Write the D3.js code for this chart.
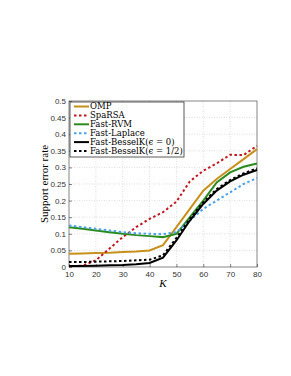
<!DOCTYPE html>
<html>
<head>
<meta charset="utf-8">
<script src="https://cdn.jsdelivr.net/npm/d3@7"></script>
<style>
  body { margin: 0; background: #fff; }
  text { font-family: "DejaVu Serif", "Liberation Serif", serif; }
</style>
</head>
<body>
<svg id="chart" width="291" height="376"></svg>
<script>
// data
var kValues = [10, 15, 20, 25, 30, 35, 40, 45, 50, 55, 60, 65, 70, 75, 80];
var omp      = [0.040, 0.041, 0.042, 0.043, 0.045, 0.047, 0.050, 0.066, 0.120, 0.175, 0.230, 0.265, 0.295, 0.325, 0.355];
var sparsa   = [0.002, 0.004, 0.020, 0.055, 0.090, 0.120, 0.145, 0.165, 0.197, 0.258, 0.290, 0.312, 0.338, 0.337, 0.365];
var fastRvm  = [0.120, 0.115, 0.110, 0.105, 0.100, 0.096, 0.093, 0.090, 0.100, 0.150, 0.200, 0.255, 0.285, 0.302, 0.312];
var fastLap  = [0.125, 0.120, 0.115, 0.110, 0.105, 0.102, 0.100, 0.099, 0.105, 0.140, 0.175, 0.200, 0.225, 0.250, 0.268];
var bessel0  = [0.003, 0.003, 0.004, 0.005, 0.006, 0.008, 0.012, 0.028, 0.080, 0.140, 0.190, 0.230, 0.258, 0.278, 0.292];
var bessel12 = [0.015, 0.015, 0.016, 0.017, 0.018, 0.020, 0.022, 0.035, 0.088, 0.145, 0.195, 0.235, 0.262, 0.282, 0.297];
var xTicks = [10, 20, 30, 40, 50, 60, 70, 80];
var yTicks = [0, 0.05, 0.1, 0.15, 0.2, 0.25, 0.3, 0.35, 0.4, 0.45, 0.5];

var seriesList = [
  { name: "OMP", values: omp, color: "#c8901a", dash: null },
  { name: "SpaRSA", values: sparsa, color: "#c0161e", dash: "2.5,2.5" },
  { name: "Fast-RVM", values: fastRvm, color: "#2a8c1e", dash: null },
  { name: "Fast-Laplace", values: fastLap, color: "#4aa0ea", dash: "2.5,2.5" },
  { name: "Fast-BesselK(\u03f5 = 0)", values: bessel0, color: "#000", dash: null },
  { name: "Fast-BesselK(\u03f5 = 1/2)", values: bessel12, color: "#000", dash: "2.5,2.5" }
];

var svg = d3.select("#chart");
var pLeft = 69, pRight = 257, pTop = 101, pBottom = 267;

var x = d3.scaleLinear().domain([10, 80]).range([pLeft, pRight]);
var y = d3.scaleLinear().domain([0, 0.5]).range([pBottom, pTop]);

// grid
svg.append("g").selectAll("line")
  .data(xTicks.slice(1, -1)).enter().append("line")
    .attr("x1", function(d) { return x(d); }).attr("x2", function(d) { return x(d); })
    .attr("y1", pTop).attr("y2", pBottom)
    .attr("stroke", "#c8c8c8").attr("stroke-width", 0.6).attr("stroke-dasharray", "1,1.5");
svg.append("g").selectAll("line")
  .data(yTicks.slice(1, -1)).enter().append("line")
    .attr("y1", function(d) { return y(d); }).attr("y2", function(d) { return y(d); })
    .attr("x1", pLeft).attr("x2", pRight)
    .attr("stroke", "#c8c8c8").attr("stroke-width", 0.6).attr("stroke-dasharray", "1,1.5");

// axes
var xAxis = d3.axisBottom(x).tickValues(xTicks).tickSize(-3).tickPadding(3);
var yAxis = d3.axisLeft(y).tickValues(yTicks).tickSize(-3).tickPadding(3)
  .tickFormat(function(d) { return d === 0 ? "0" : String(+d.toFixed(2)); });

var gx = svg.append("g").attr("transform", "translate(0," + pBottom + ")").call(xAxis);
var gy = svg.append("g").attr("transform", "translate(" + pLeft + ",0)").call(yAxis);
[gx, gy].forEach(function(g) {
  g.select(".domain").remove();
  g.selectAll("line").attr("stroke", "#333").attr("stroke-width", 0.6);
  g.selectAll("text").attr("fill", "#333").style("font-size", "8px")
    .style("font-family", "'Liberation Sans', Arial, sans-serif");
});
gx.selectAll("text").attr("dy", "0.85em");

svg.append("rect")
  .attr("x", pLeft).attr("y", pTop)
  .attr("width", pRight - pLeft).attr("height", pBottom - pTop)
  .attr("fill", "none").attr("stroke", "#333").attr("stroke-width", 0.6);

// lines
var line = d3.line()
  .x(function(d, i) { return x(kValues[i]); })
  .y(function(d) { return y(d); });

svg.append("g").selectAll("path")
  .data(seriesList).enter().append("path")
    .attr("d", function(d) { return line(d.values); })
    .attr("fill", "none")
    .attr("stroke", function(d) { return d.color; })
    .attr("stroke-width", 2)
    .attr("stroke-dasharray", function(d) { return d.dash; });

// labels
svg.append("text")
  .attr("x", (pLeft + pRight) / 2).attr("y", 287)
  .attr("text-anchor", "middle")
  .style("font-family", "'Liberation Serif', serif")
  .style("font-size", "11px").style("font-style", "italic")
  .text("K");

svg.append("text")
  .attr("transform", "translate(48," + ((pTop + pBottom) / 2) + ") rotate(-90)")
  .attr("text-anchor", "middle")
  .style("font-family", "'Liberation Serif', serif")
  .style("font-size", "11px")
  .text("Support error rate");

// legend
var lg = svg.append("g").attr("transform", "translate(70,102)");
lg.append("rect")
  .attr("width", 114).attr("height", 55)
  .attr("fill", "#fff").attr("stroke", "#333").attr("stroke-width", 0.8);

var item = lg.selectAll("g.item")
  .data(seriesList).enter().append("g")
    .attr("class", "item")
    .attr("transform", function(d, i) { return "translate(0," + (4.5 + i * 8.9) + ")"; });

item.append("line")
  .attr("x1", 4).attr("x2", 19)
  .attr("stroke", function(d) { return d.color; })
  .attr("stroke-width", 2)
  .attr("stroke-dasharray", function(d) { return d.dash; });

item.append("text")
  .attr("x", 20).attr("dy", "0.35em")
  .style("font-size", "8.5px")
  .text(function(d) { return d.name; });
</script>
</body>
</html>
